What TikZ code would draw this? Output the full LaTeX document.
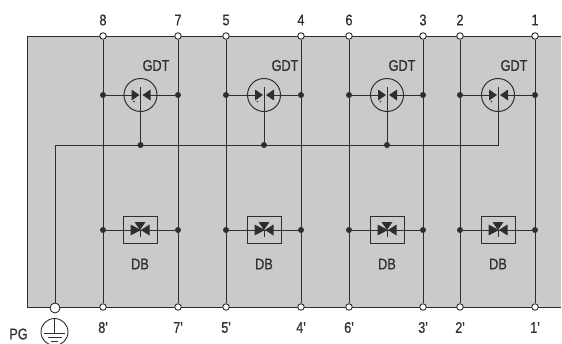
\documentclass[tikz,border=0pt]{standalone}
\usepackage{fontspec}
\setmainfont{Liberation Sans}
\newfontfamily\labfont[FakeBold=0.6]{Liberation Sans}
\definecolor{panel}{HTML}{C9CBC9}
\definecolor{ink}{HTML}{2E2E2E}
\tikzset{
  wire/.style={draw=ink,line width=1pt},
  term/.style={circle,draw=ink,fill=white,line width=0.9pt,inner sep=0pt,minimum size=6.5pt},
  dotj/.style={circle,fill=ink,inner sep=0pt,minimum size=6pt},
  gdtc/.style={circle,draw=ink,line width=1pt,inner sep=0pt,minimum size=33pt},
  dbbox/.style={rectangle,draw=ink,line width=1pt,inner sep=0pt,minimum width=34pt,minimum height=27pt},
  lab/.style={inner sep=0pt,text=ink,font=\labfont\fontsize{15.5}{16}\selectfont,xscale=0.82},
  tipf/.style={fill=ink,draw=none}
}
\begin{document}
\begin{tikzpicture}[x=1pt,y=-1pt,line join=miter]
\useasboundingbox (0,0) rectangle (562,343);
\fill[panel] (27,36) rectangle (561,307);
\draw[wire] (561,36) -- (27,36) -- (27,307) -- (561,307);
% bus
\coordinate (busL) at (55,145);
\coordinate (busR) at (498,145);
\node[term,minimum size=10pt] (pg) at (55,308) {};
\draw[wire] (pg) -- (busL) -- (busR) -- (498,95);
% columns: left x, left label, right x, right label, gdt x, gdt label x, db x, index
\foreach \xa/\la/\xb/\lb/\g/\gl/\d/\i in {
  103/8/178/7/140.5/156/140/1,
  226/5/301/4/264/285/264/2,
  349/6/423/3/387/402/387/3,
  460/2/535/1/498/514/498/4}{
  \node[term] (ta\i) at (\xa,36) {};
  \node[term] (tb\i) at (\xb,36) {};
  \node[term] (ba\i) at (\xa,307) {};
  \node[term] (bb\i) at (\xb,307) {};
  \node[lab] (lta\i) at (\xa,20) {\la};
  \node[lab] (ltb\i) at (\xb,20) {\lb};
  \node[lab] (lba\i) at (\xa,327.5) {\la'};
  \node[lab] (lbb\i) at (\xb,327.5) {\lb'};
  \draw[wire] (ta\i) -- (ba\i);
  \draw[wire] (tb\i) -- (bb\i);
  \node[dotj] (ga\i) at (\xa,95) {};
  \node[dotj] (gb\i) at (\xb,95) {};
  \node[dotj] (da\i) at (\xa,230) {};
  \node[dotj] (db\i) at (\xb,230) {};
  % GDT
  \node[gdtc] (gdt\i) at (\g,95) {};
  \node[lab] (gl\i) at (\gl,65.5) {GDT};
  \draw[wire] (ga\i) -- (\g-5,95);
  \draw[wire] (gb\i) -- (\g+6,95);
  \fill[tipf] (\g-1,95) -- (\g-9,89.5) -- (\g-9,100.5) -- cycle;
  \fill[tipf] (\g+2,95) -- (\g+10,89.5) -- (\g+10,100.5) -- cycle;
  \fill[tipf] (\g-6.5,101.5) circle (0.9pt);
  \draw[wire] (\g,87) -- (\g,112);
  % DB
  \node[dbbox] (dbx\i) at (\d,230) {};
  \node[lab] (dl\i) at (\d,264) {DB};
  \draw[wire] (da\i) -- (db\i);
  \fill[tipf] (\d+1,230) -- (\d-9.5,224.5) -- (\d-9.5,235.5) -- cycle;
  \fill[tipf] (\d+1,230) -- (\d+9.5,224.5) -- (\d+9.5,235.5) -- cycle;
  \fill[tipf] (\d,230) -- (\d-5.5,222) -- (\d+5.5,222) -- cycle;
  \draw[wire,line width=0.8pt] (\d,230) -- (\d,237);
}
% GDT stems to bus
\foreach \x/\i in {140.5/1,264/2,387/3}{
  \node[dotj] (bus\i) at (\x,145) {};
  \draw[wire] (gdt\i.center) -- (bus\i);
}
% PG and earth
\node[lab] (pglab) at (18.5,334) {PG};
\node[circle,draw=ink,line width=0.9pt,inner sep=0pt,minimum size=27pt] (earth) at (54.5,332) {};
\draw[wire,line width=0.9pt] (earth.north) -- (54.5,333);
\draw[wire,line width=0.9pt] (44,333) -- (65,333);
\draw[wire,line width=0.9pt] (47.5,337.5) -- (61.5,337.5);
\draw[wire,line width=0.9pt] (51,341.5) -- (58,341.5);
\end{tikzpicture}
\end{document}
